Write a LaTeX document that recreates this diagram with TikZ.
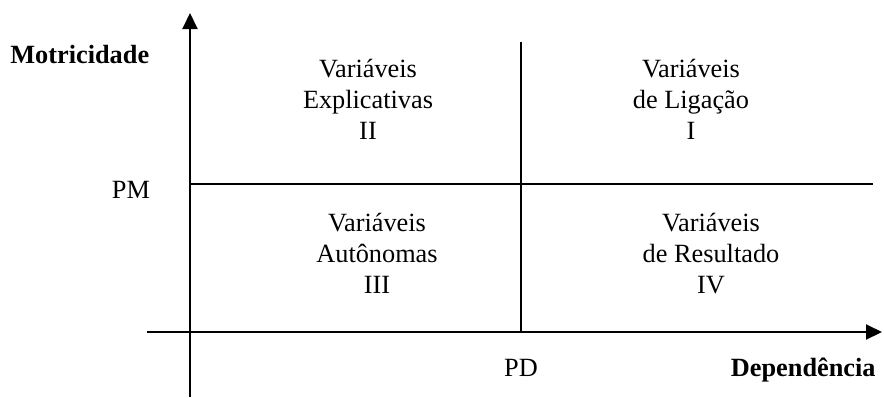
\documentclass[tikz,border=0pt]{standalone}
\usepackage{fontspec}
\setmainfont{Liberation Serif}
\usetikzlibrary{arrows.meta}
\begin{document}
\begin{tikzpicture}[x=0.5pt,y=-0.5pt,
  txt/.style={inner sep=0pt,font=\fontsize{13.15pt}{15.5pt}\selectfont},
  quad/.style={txt,align=center,anchor=base},
  axis/.style={line width=1pt,-{Triangle[length=8pt,width=7.5pt]}},
  divider/.style={line width=1pt}]
  \useasboundingbox (0,0) rectangle (884,397);
  % axes
  \coordinate (yb) at (190,397);
  \coordinate (yt) at (190,13);
  \coordinate (xl) at (147,332);
  \coordinate (xr) at (882,332);
  \draw[axis] (yb) -- (yt);
  \draw[axis] (xl) -- (xr);
  % quadrant dividers
  \coordinate (vt) at (521,42);
  \coordinate (vb) at (521,332);
  \coordinate (hl) at (190,184);
  \coordinate (hr) at (873,184);
  \draw[divider] (vt) -- (vb);
  \draw[divider] (hl) -- (hr);
  % axis labels
  \node[txt,font=\fontsize{13.15pt}{15.5pt}\selectfont\bfseries,anchor=base west] (mot) at (10,63) {Motricidade};
  \node[txt,font=\fontsize{13.15pt}{15.5pt}\selectfont\bfseries,anchor=base east] (dep) at (876,376) {Dependência};
  \node[txt,anchor=base] (pm) at (131,198) {PM};
  \node[txt,anchor=base] (pd) at (521,376) {PD};
  % quadrants (anchored at the baseline of the last line)
  \node[quad] (q2) at (368,139) {Variáveis\\Explicativas\\II};
  \node[quad] (q1) at (691,139) {Variáveis\\de Ligação\\I};
  \node[quad] (q3) at (377,293) {Variáveis\\Autônomas\\III};
  \node[quad] (q4) at (711,293) {Variáveis\\de Resultado\\IV};
\end{tikzpicture}
\end{document}
